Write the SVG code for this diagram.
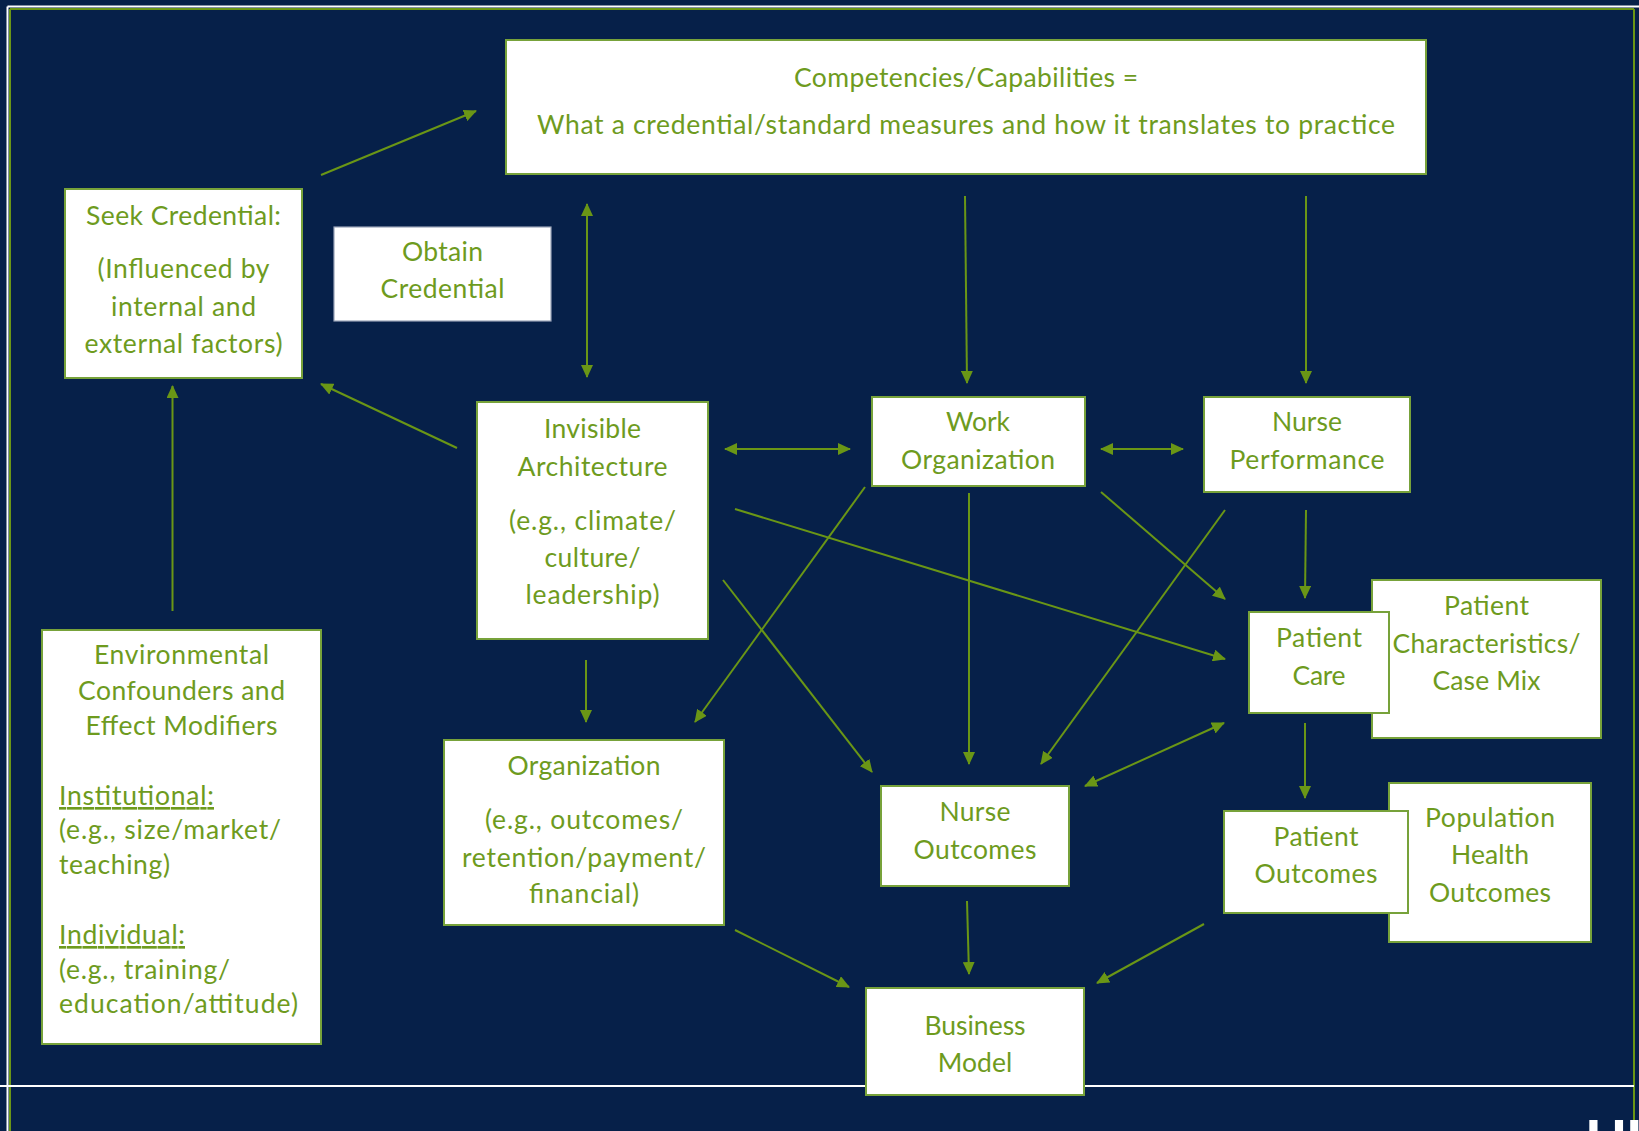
<svg xmlns="http://www.w3.org/2000/svg" width="1639" height="1131" viewBox="0 0 1639 1131">
<style>
.bg{fill:#062049}
.box{fill:#ffffff;stroke:#77a23a;stroke-width:2}
.box2{fill:#ffffff;stroke:#9aa4b8;stroke-width:1.2}
.t{font-family:Lato,"Open Sans","Liberation Sans",sans-serif;font-size:26.5px;fill:#6e9b1e;text-anchor:middle}
.tl{text-anchor:start}
.u{text-decoration:underline}
.c{stroke:#6a9616;stroke-width:2;fill:none}
.one{marker-end:url(#ah)}
.two{marker-start:url(#ah);marker-end:url(#ah)}
.frameW{stroke:#ffffff;stroke-width:2;fill:none}
.frameG{stroke:#6a9616;stroke-width:2;fill:none}
</style>
<defs>
<marker id="ah" markerWidth="13" markerHeight="12" refX="12" refY="6" orient="auto-start-reverse" markerUnits="userSpaceOnUse">
<path d="M0,0 L13,6 L0,12 z" fill="#6a9616"/>
</marker>
</defs>
<rect class="bg" x="0" y="0" width="1639" height="1131"/>
<g id="frame">
<line class="frameW" x1="7.5" y1="6.5" x2="1639" y2="6.5"/>
<line class="frameW" x1="7.5" y1="6.5" x2="7.5" y2="1131"/>
<line class="frameG" x1="10" y1="9" x2="1634" y2="9"/>
<line class="frameG" x1="10" y1="9" x2="10" y2="1131"/>
<line class="frameG" x1="1634" y1="9" x2="1634" y2="1131"/>
<line class="frameW" x1="0" y1="1086" x2="1634" y2="1086" stroke-width="1.5"/>
<text x="1586" y="1158" font-family="'Liberation Sans',Arial,sans-serif" font-weight="bold" font-size="56" fill="#ffffff">UK</text>
</g>
<g id="connectors">
<line class="c one" x1="321" y1="175" x2="476" y2="111"/>
<line class="c two" x1="587" y1="204" x2="587" y2="377"/>
<line class="c one" x1="965" y1="196" x2="967" y2="383"/>
<line class="c one" x1="1306" y1="196" x2="1306" y2="383"/>
<line class="c one" x1="457" y1="448" x2="321" y2="384"/>
<line class="c two" x1="725" y1="449" x2="850" y2="449"/>
<line class="c two" x1="1101" y1="449" x2="1183" y2="449"/>
<line class="c one" x1="172.5" y1="611" x2="172.5" y2="386"/>
<line class="c one" x1="586" y1="660" x2="586" y2="722"/>
<line class="c one" x1="723" y1="580" x2="872" y2="772"/>
<line class="c one" x1="735" y1="509" x2="1225" y2="659"/>
<line class="c one" x1="865" y1="487" x2="695" y2="722"/>
<line class="c one" x1="969" y1="493" x2="969" y2="764"/>
<line class="c one" x1="1101" y1="492" x2="1225" y2="599"/>
<line class="c one" x1="1225" y1="510" x2="1041" y2="764"/>
<line class="c one" x1="1306" y1="510" x2="1305" y2="598"/>
<line class="c two" x1="1224" y1="723" x2="1085" y2="786"/>
<line class="c one" x1="1305" y1="723" x2="1305" y2="798"/>
<line class="c one" x1="967" y1="901" x2="969" y2="974"/>
<line class="c one" x1="735" y1="930" x2="849" y2="987"/>
<line class="c one" x1="1204" y1="924" x2="1097" y2="983"/>
</g>
<g id="competencies">
<rect class="box" x="506" y="40" width="920" height="134"/>
<text class="t" x="966" y="87" textLength="344">Competencies/Capabilities =</text>
<text class="t" x="966" y="134" textLength="858">What a credential/standard measures and how it translates to practice</text>
</g>
<g id="seek-credential">
<rect class="box" x="65" y="189" width="237" height="189"/>
<text class="t" x="183.5" y="225" textLength="195">Seek Credential:</text>
<text class="t" x="183.5" y="278" textLength="172">(Influenced by</text>
<text class="t" x="183.5" y="316" textLength="145">internal and</text>
<text class="t" x="183.5" y="353" textLength="198">external factors)</text>
</g>
<g id="obtain-credential">
<rect class="box2" x="334" y="227" width="217" height="94"/>
<text class="t" x="442.5" y="261" textLength="81">Obtain</text>
<text class="t" x="442.5" y="298" textLength="124">Credential</text>
</g>
<g id="invisible-architecture">
<rect class="box" x="477" y="402" width="231" height="237"/>
<text class="t" x="592.5" y="438" textLength="97">Invisible</text>
<text class="t" x="592.5" y="476" textLength="150">Architecture</text>
<text class="t" x="592.5" y="530" textLength="167">(e.g., climate/</text>
<text class="t" x="592.5" y="567" textLength="96">culture/</text>
<text class="t" x="592.5" y="604" textLength="134">leadership)</text>
</g>
<g id="work-organization">
<rect class="box" x="872" y="397" width="213" height="89"/>
<text class="t" x="978" y="431" textLength="64">Work</text>
<text class="t" x="978" y="469" textLength="154">Organization</text>
</g>
<g id="nurse-performance">
<rect class="box" x="1204" y="397" width="206" height="95"/>
<text class="t" x="1307" y="431" textLength="70">Nurse</text>
<text class="t" x="1307" y="469" textLength="155">Performance</text>
</g>
<g id="patient-characteristics">
<rect class="box" x="1372" y="580" width="229" height="158"/>
<text class="t" x="1486.5" y="615" textLength="85">Patient</text>
<text class="t" x="1486.5" y="653" textLength="188">Characteristics/</text>
<text class="t" x="1486.5" y="690" textLength="108">Case Mix</text>
</g>
<g id="patient-care">
<rect class="box" x="1249" y="612" width="140" height="101"/>
<text class="t" x="1319" y="647" textLength="86">Patient</text>
<text class="t" x="1319" y="685" textLength="53">Care</text>
</g>
<g id="population-health-outcomes">
<rect class="box" x="1389" y="783" width="202" height="159"/>
<text class="t" x="1490" y="827" textLength="130">Population</text>
<text class="t" x="1490" y="864" textLength="78">Health</text>
<text class="t" x="1490" y="902" textLength="122">Outcomes</text>
</g>
<g id="patient-outcomes">
<rect class="box" x="1224" y="811" width="184" height="102"/>
<text class="t" x="1316" y="846" textLength="85">Patient</text>
<text class="t" x="1316" y="883" textLength="123">Outcomes</text>
</g>
<g id="environmental">
<rect class="box" x="42" y="630" width="279" height="414"/>
<text class="t" x="181.5" y="664" textLength="175">Environmental</text>
<text class="t" x="181.5" y="700" textLength="207">Confounders and</text>
<text class="t" x="181.5" y="735" textLength="192">Effect Modifiers</text>
<text class="t tl u" x="59" y="805" textLength="155">Institutional:</text>
<text class="t tl" x="59" y="839" textLength="222">(e.g., size/market/</text>
<text class="t tl" x="59" y="874" textLength="111">teaching)</text>
<text class="t tl u" x="59" y="944" textLength="126">Individual:</text>
<text class="t tl" x="59" y="979" textLength="171">(e.g., training/</text>
<text class="t tl" x="59" y="1013" textLength="239">education/attitude)</text>
</g>
<g id="organization">
<rect class="box" x="444" y="740" width="280" height="185"/>
<text class="t" x="584" y="775" textLength="153">Organization</text>
<text class="t" x="584" y="829" textLength="198">(e.g., outcomes/</text>
<text class="t" x="584" y="867" textLength="244">retention/payment/</text>
<text class="t" x="584" y="903" textLength="110">financial)</text>
</g>
<g id="nurse-outcomes">
<rect class="box" x="881" y="786" width="188" height="100"/>
<text class="t" x="975" y="821" textLength="71">Nurse</text>
<text class="t" x="975" y="859" textLength="123">Outcomes</text>
</g>
<g id="business-model">
<rect class="box" x="866" y="988" width="218" height="107"/>
<text class="t" x="975" y="1035">Business</text>
<text class="t" x="975" y="1072">Model</text>
</g>
</svg>
